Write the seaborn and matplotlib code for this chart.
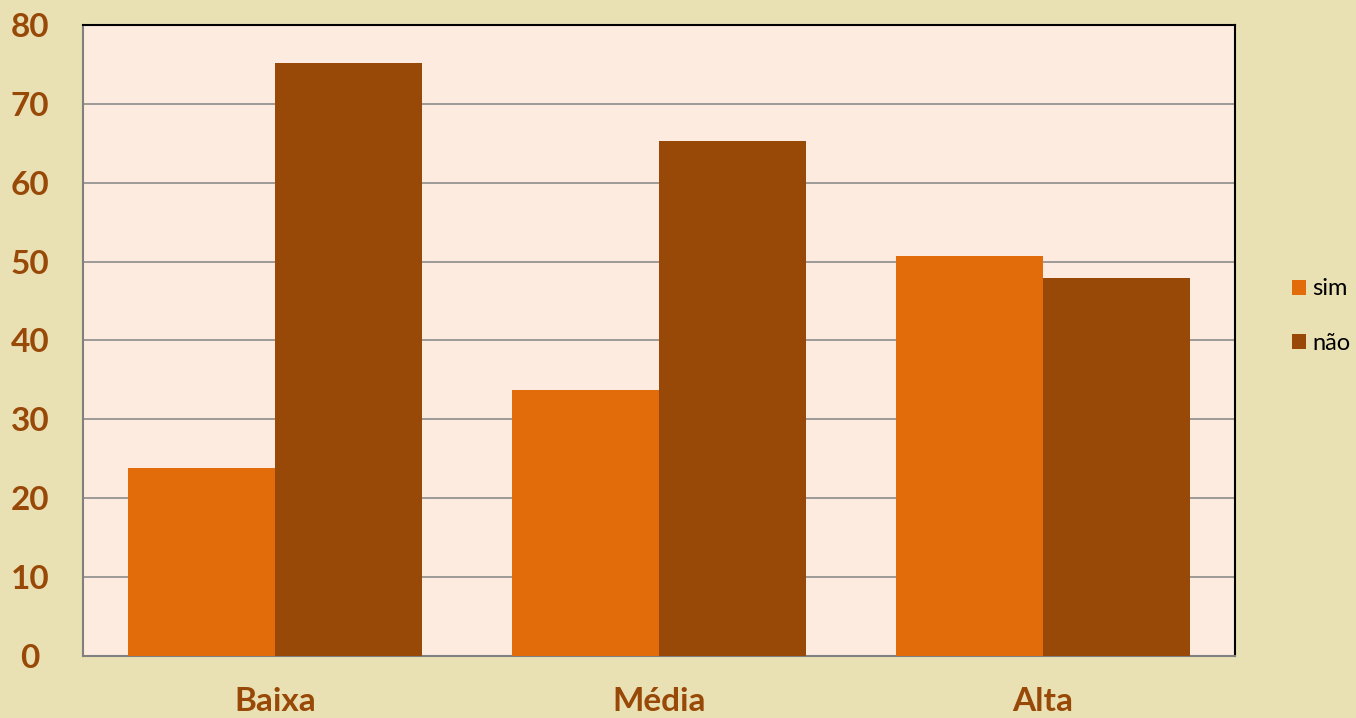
import pandas as pd
import matplotlib.pyplot as plt
import seaborn as sns

# values
categories = ['Baixa', 'Média', 'Alta']
sim = [23.8, 33.7, 50.7]
nao = [75.2, 65.3, 47.9]
series = ['sim', 'não']

df = pd.DataFrame({
    'nivel': categories * 2,
    'valor': sim + nao,
    'resposta': [series[0]] * 3 + [series[1]] * 3,
})

sns.set_style('white')
plt.rcParams['font.family'] = ['Lato', 'DejaVu Sans']

fig = plt.figure(figsize=(13.56, 7.18), dpi=100, facecolor='#E9E0B4')
ax = fig.add_axes([83 / 1356, 62 / 718, 1152 / 1356, 631 / 718])
ax.set_facecolor('#FDEBDF')

sns.barplot(data=df, x='nivel', y='valor', hue='resposta', order=categories,
            hue_order=series, palette=['#E36C0A', '#984807'], width=0.766,
            gap=0, saturation=1, edgecolor='none', ax=ax, zorder=3)

ax.set_xlim(-0.5, 2.5)
ax.set_ylim(0, 80)
ax.set_yticks(range(0, 81, 10))
ax.yaxis.grid(True, color='#8C8C8C', linewidth=1.2, zorder=0)
ax.set_axisbelow(True)
ax.set_xlabel('')
ax.set_ylabel('')
ax.tick_params(axis='both', length=0, labelsize=24, labelcolor='#984807')
ax.tick_params(axis='y', pad=38)
ax.tick_params(axis='x', pad=22)
for lab in ax.get_xticklabels() + ax.get_yticklabels():
    lab.set_fontweight('bold')
for lab in ax.get_yticklabels():
    lab.set_horizontalalignment('center')

for side in ['top', 'right']:
    ax.spines[side].set_color('black')
    ax.spines[side].set_linewidth(1.5)
for side in ['left', 'bottom']:
    ax.spines[side].set_color('#808080')
    ax.spines[side].set_linewidth(1.5)

handles, labels = ax.get_legend_handles_labels()
ax.get_legend().remove()
leg = fig.legend(handles, labels, loc='center left', bbox_to_anchor=(1280 / 1356, 1 - 316 / 718),
                 frameon=False, fontsize=17, handlelength=0.6, handleheight=0.6,
                 handletextpad=0.25, labelspacing=1.4, borderpad=0)
for t in leg.get_texts():
    t.set_color('black')

fig.savefig('out.png', dpi=100, facecolor=fig.get_facecolor())
